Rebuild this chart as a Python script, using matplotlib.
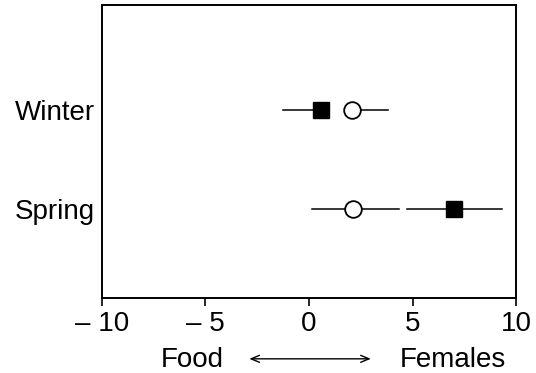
import numpy as np
import matplotlib.pyplot as plt

plt.rcParams['font.family'] = ['Liberation Sans', 'DejaVu Sans']

seasons = ['Spring', 'Winter']
# filled squares
sq_x = [7.0, 0.58]
sq_lo = [4.73, -1.26]
sq_hi = [9.32, 0.58]
# open circles
ci_x = [2.13, 2.08]
ci_lo = [0.14, 2.08]
ci_hi = [4.35, 3.8]

ypos = np.arange(len(seasons))

fig = plt.figure(figsize=(5.36, 3.73), dpi=100)
ax = fig.add_axes([0.190, 0.201, 0.773, 0.786])

for y, x, lo, hi in zip(ypos, sq_x, sq_lo, sq_hi):
    ax.plot([lo, hi], [y, y], color='black', lw=1.1, zorder=1)
    ax.plot(x, y, 's', ms=11.5, mfc='black', mec='black', zorder=3)
for y, x, lo, hi in zip(ypos, ci_x, ci_lo, ci_hi):
    ax.plot([lo, hi], [y, y], color='black', lw=1.1, zorder=1)
    ax.plot(x, y, 'o', ms=12, mfc='white', mec='black', mew=1.3, zorder=3)

ax.set_xlim(-10, 10)
ax.set_ylim(-0.9, 2.06)
ax.set_xticks([-10, -5, 0, 5, 10])
ax.set_xticklabels(['\u2013 10', '\u2013 5', '0', '5', '10'], fontsize=20)
ax.set_yticks(ypos)
ax.set_yticklabels(seasons, fontsize=20)
ax.tick_params(axis='y', length=0, pad=5)
ax.tick_params(axis='x', direction='out', length=6, width=1.2, pad=3)
for s in ax.spines.values():
    s.set_linewidth(1.4)

fig.text(0.359, 0.015, 'Food', fontsize=20, ha='center', va='baseline')
fig.text(0.844, 0.015, 'Females', fontsize=20, ha='center', va='baseline')
fig.add_artist(plt.Annotation('', xy=(0.697, 0.038), xytext=(0.460, 0.038),
                              xycoords='figure fraction',
                              arrowprops=dict(arrowstyle='<->,head_length=0.6,head_width=0.25',
                                              lw=1.0, color='black')))

fig.savefig('out.png', dpi=100)
